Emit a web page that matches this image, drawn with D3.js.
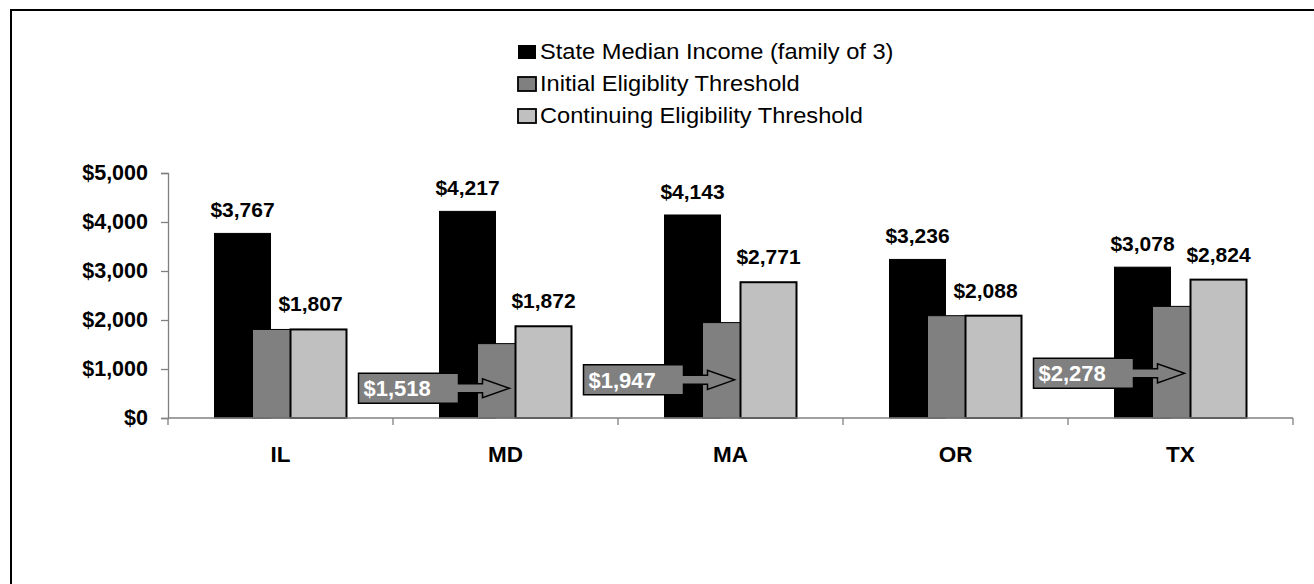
<!DOCTYPE html>
<html>
<head>
<meta charset="utf-8">
<script src="https://cdn.jsdelivr.net/npm/d3@7"></script>
<style>
  html, body { margin: 0; background: #fff; overflow: hidden; }
  svg { display: block; font-family: "Liberation Sans", Arial, sans-serif; }
</style>
</head>
<body>
<svg id="chart"></svg>
<script>
var states = ['IL', 'MD', 'MA', 'OR', 'TX'];
var medianIncome = [3767, 4217, 4143, 3236, 3078];
var initialThreshold = [1807, 1518, 1947, 2088, 2278];
var continuingThreshold = [1807, 1872, 2771, 2088, 2824];
var seriesNames = [
  'State Median Income (family of 3)',
  'Initial Eligiblity Threshold',
  'Continuing Eligibility Threshold'
];
var seriesColors = ['#000000', '#808080', '#c0c0c0'];
var yTicks = [0, 1000, 2000, 3000, 4000, 5000];
// states whose initial threshold gets an arrow callout
var callouts = ['MD', 'MA', 'TX'];

var width = 1314,
  height = 584;

var svg = d3.select('#chart')
  .attr('width', width)
  .attr('height', height);

// outer frame, only left and top edges are in view
svg.append('path')
  .attr('d', 'M11,' + height + 'V10H' + width)
  .attr('fill', 'none')
  .attr('stroke', '#000')
  .attr('stroke-width', 2);

var x = d3.scaleBand()
  .domain(states)
  .range([168, 1293]);

var y = d3.scaleLinear()
  .domain([0, 5000])
  .range([418, 173]);

var money = d3.format('$,');

var barW = 56,
  barStep = 38;

function barX(state, s) {
  return x(state) + x.bandwidth() / 2 - (barW + 2 * barStep) / 2 + s * barStep;
}

// y axis
var yAxis = svg.append('g')
  .attr('transform', 'translate(168,0)')
  .call(d3.axisLeft(y).tickValues(yTicks).tickSize(7).tickPadding(13).tickFormat(money));
yAxis.selectAll('line, path').attr('stroke', '#808080').attr('stroke-width', 1.3);
yAxis.selectAll('text')
  .attr('font-size', 21.5)
  .attr('font-weight', 'bold')
  .attr('font-family', '"Liberation Sans", Arial, sans-serif')
  .attr('fill', '#000');

// bars
var series = [medianIncome, initialThreshold, continuingThreshold];
series.forEach(function(vals, s) {
  svg.append('g')
    .selectAll('rect')
    .data(states)
    .enter().append('rect')
    .attr('x', function(d) { return barX(d, s); })
    .attr('y', function(d, i) { return y(vals[i]); })
    .attr('width', barW)
    .attr('height', function(d, i) { return y(0) - y(vals[i]); })
    .attr('fill', seriesColors[s])
    .attr('stroke', '#000')
    .attr('stroke-width', s === 2 ? 2 : 1);
});

// x axis
svg.append('line')
  .attr('x1', x.range()[0]).attr('x2', x.range()[1])
  .attr('y1', y(0)).attr('y2', y(0))
  .attr('stroke', '#808080').attr('stroke-width', 1.3);
svg.append('g')
  .selectAll('line')
  .data(states.concat(['end']))
  .enter().append('line')
  .attr('x1', function(d) { return d === 'end' ? x.range()[1] : x(d); })
  .attr('x2', function(d) { return d === 'end' ? x.range()[1] : x(d); })
  .attr('y1', y(0)).attr('y2', y(0) + 7)
  .attr('stroke', '#808080').attr('stroke-width', 1.3);
svg.append('g')
  .selectAll('text')
  .data(states)
  .enter().append('text')
  .attr('x', function(d) { return x(d) + x.bandwidth() / 2; })
  .attr('y', 462)
  .attr('text-anchor', 'middle')
  .attr('font-size', 22.5)
  .attr('font-weight', 'bold')
  .text(function(d) { return d; });

// value labels over median income bars
svg.append('g')
  .selectAll('text')
  .data(states)
  .enter().append('text')
  .attr('x', function(d) { return barX(d, 0) + barW / 2; })
  .attr('y', function(d, i) { return y(medianIncome[i]) - 16; })
  .attr('text-anchor', 'middle')
  .attr('font-size', 21)
  .attr('font-weight', 'bold')
  .text(function(d, i) { return money(medianIncome[i]); });

// value labels over continuing threshold bars
svg.append('g')
  .selectAll('text')
  .data(states)
  .enter().append('text')
  .attr('x', function(d, i) {
    var shift = initialThreshold[i] === continuingThreshold[i] ? -8 : 0;
    return barX(d, 2) + barW / 2 + shift;
  })
  .attr('y', function(d, i) { return y(continuingThreshold[i]) - 18; })
  .attr('text-anchor', 'middle')
  .attr('font-size', 21)
  .attr('font-weight', 'bold')
  .text(function(d, i) { return money(continuingThreshold[i]); });

// arrow callouts for initial threshold
var boxW = 100, boxH = 30, shaftH = 9, headH = 19, headL = 27;
callouts.forEach(function(st) {
  var i = states.indexOf(st);
  var v = initialThreshold[i];
  var tipX = barX(st, 1) + 32;
  var tipY = y(v * 0.4);
  var bx = tipX - 51 - boxW;
  var by = tipY - boxH / 2;
  var hx = tipX - headL;
  var p = d3.path();
  p.moveTo(bx, by);
  p.lineTo(bx + boxW, by);
  p.lineTo(bx + boxW, tipY - shaftH / 2);
  p.lineTo(hx, tipY - shaftH / 2);
  p.lineTo(hx, tipY - headH / 2);
  p.lineTo(tipX, tipY);
  p.lineTo(hx, tipY + headH / 2);
  p.lineTo(hx, tipY + shaftH / 2);
  p.lineTo(bx + boxW, tipY + shaftH / 2);
  p.lineTo(bx + boxW, by + boxH);
  p.lineTo(bx, by + boxH);
  p.closePath();
  svg.append('path')
    .attr('d', p.toString())
    .attr('fill', '#808080')
    .attr('stroke', '#000')
    .attr('stroke-width', 1.5);
  svg.append('text')
    .attr('x', bx + 5)
    .attr('y', tipY + 8)
    .attr('fill', '#fff')
    .attr('font-size', 22)
    .attr('font-weight', 'bold')
    .text(money(v));
});

// legend
var legend = svg.append('g')
  .selectAll('g')
  .data(seriesNames)
  .enter().append('g')
  .attr('transform', function(d, i) { return 'translate(518,' + (45 + i * 32) + ')'; });
legend.append('rect')
  .attr('width', 18)
  .attr('height', 14)
  .attr('fill', function(d, i) { return seriesColors[i]; })
  .attr('stroke', '#000')
  .attr('stroke-width', function(d, i) { return i === 0 ? 0 : 1.8; });
legend.append('text')
  .attr('x', 20)
  .attr('y', 14)
  .attr('font-size', 21.5)
  .attr('fill', '#000')
  .attr('transform', 'scale(1.1,1)')
  .text(function(d) { return d; });
</script>
</body>
</html>
